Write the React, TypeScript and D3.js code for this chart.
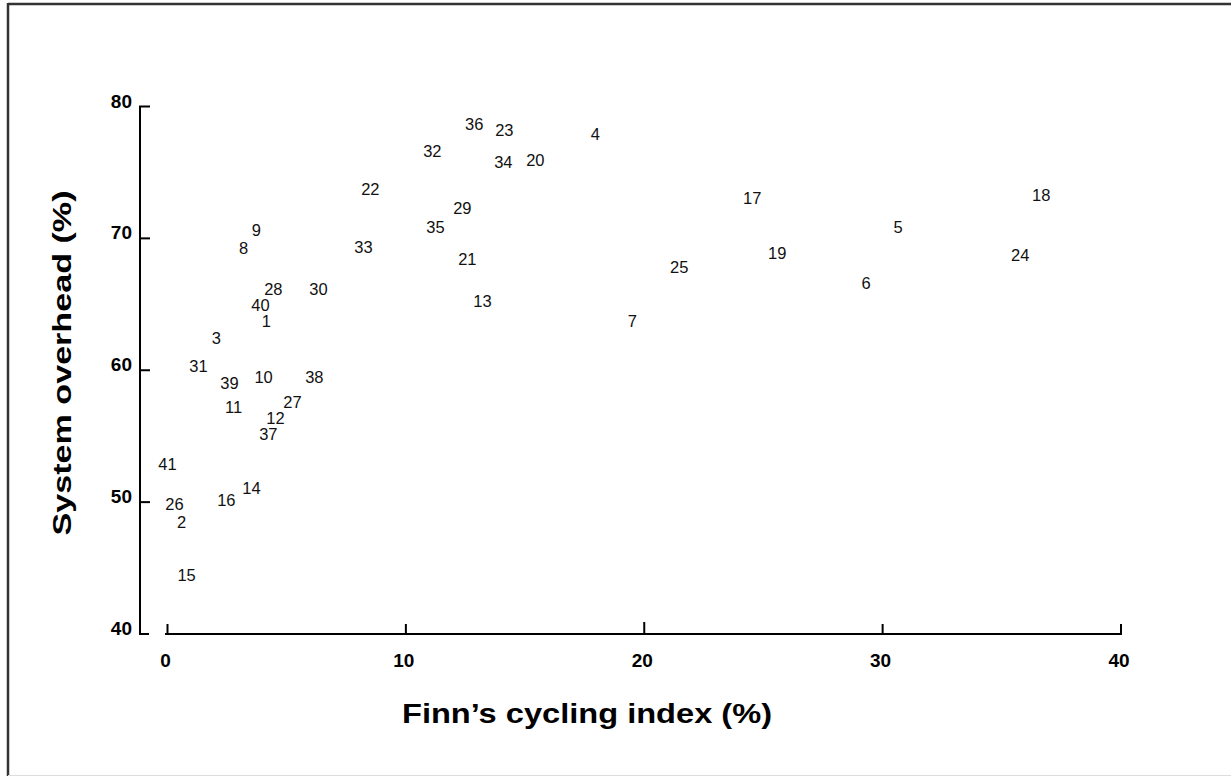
import React from "react";
import * as d3 from "d3";

const labels = ["36","23","4","32","34","20","22","29","35","33","21","13","9","8","28","30","40","1","3","31","39","10","38","11","27","12","37","41","14","16","26","2","15","17","5","18","19","24","6","25","7"];
const cyclingIndex = [12.87,14.13,17.95,11.11,14.09,15.43,8.51,12.37,11.24,8.22,12.58,13.21,3.73,3.19,4.44,6.33,3.90,4.15,2.05,1.30,2.60,4.03,6.16,2.77,5.24,4.53,4.23,0.0,3.52,2.47,0.29,0.59,0.80,24.53,30.65,36.65,25.58,35.77,29.31,21.47,19.5];
const systemOverhead = [78.7,78.24,77.95,76.66,75.76,75.98,73.72,72.28,70.85,69.34,68.43,65.26,70.62,69.26,66.16,66.16,64.95,63.7,62.46,60.35,59.06,59.5,59.5,57.24,57.62,56.41,55.13,52.87,51.06,50.15,49.85,48.5,44.5,73.04,70.85,73.27,68.88,68.73,66.61,67.82,63.74];
const xTicks = [0, 10, 20, 30, 40];
const yTicks = [40, 50, 60, 70, 80];

export default function App() {
  const W = 1231, H = 777;
  const x = d3.scaleLinear().domain([0, 40]).range([167.5, 1121]);
  const y = d3.scaleLinear().domain([40, 80]).range([634, 106.5]);
  const font = "'Liberation Sans', Arial, sans-serif";
  return (
    <svg width={W} height={H} style={{ position: "absolute", left: 0, top: 0, background: "#fff" }}>
      <rect x={0} y={0} width={W} height={H} fill="#fff" />
      {/* frame */}
      <line x1={8} y1={4} x2={W} y2={4} stroke="#333" strokeWidth={2.5} />
      <line x1={8} y1={3} x2={8} y2={776} stroke="#333" strokeWidth={2.5} />
      <line x1={8} y1={775.5} x2={W} y2={775.5} stroke="#ddd" strokeWidth={1} />
      {/* y axis */}
      <line x1={140} y1={y(80)} x2={140} y2={y(40)} stroke="#000" strokeWidth={2} />
      {yTicks.map((t) => (
        <g key={t}>
          <line x1={139} y1={y(t)} x2={t === 40 ? 149 : 150} y2={y(t)} stroke="#000" strokeWidth={2} />
          <text x={132} y={y(t) + 1} textAnchor="end" fontFamily={font} fontWeight="bold" fontSize={19}>{t}</text>
        </g>
      ))}
      {/* x axis */}
      <line x1={165} y1={y(40)} x2={x(40) + 1} y2={y(40)} stroke="#000" strokeWidth={2} />
      {xTicks.map((t) => (
        <g key={t}>
          <line x1={x(t)} y1={y(40)} x2={x(t)} y2={y(40) - (t === 20 ? 12 : 10)} stroke="#000" strokeWidth={2} />
          <text x={x(t) - 2} y={y(40) + 33} textAnchor="middle" fontFamily={font} fontWeight="bold" fontSize={19}>{t}</text>
        </g>
      ))}
      {/* titles */}
      <text x={587} y={723} textAnchor="middle" fontFamily={font} fontWeight="bold" fontSize={27} textLength={370} lengthAdjust="spacingAndGlyphs">Finn’s cycling index (%)</text>
      <text transform={`translate(71,363) rotate(-90)`} textAnchor="middle" fontFamily={font} fontWeight="bold" fontSize={26} textLength={345} lengthAdjust="spacingAndGlyphs">System overhead (%)</text>
      {/* points as labels */}
      {labels.map((l, i) => (
        <text key={l} x={x(cyclingIndex[i])} y={y(systemOverhead[i])} textAnchor="middle" dominantBaseline="central" fontFamily={font} fontSize={16.5} fill="#111">{l}</text>
      ))}
    </svg>
  );
}
